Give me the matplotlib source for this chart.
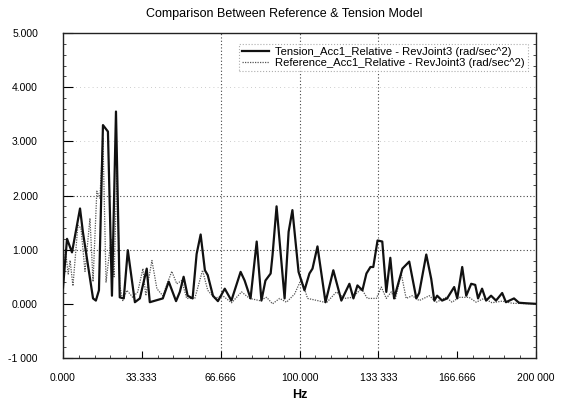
import matplotlib
matplotlib.use("Agg")
import matplotlib.pyplot as plt
from matplotlib.ticker import AutoMinorLocator, FixedLocator

plt.rcParams['font.family'] = ['Liberation Sans', 'DejaVu Sans']

title = "Comparison Between Reference & Tension Model"
xlabel = "Hz"
tension_label = "Tension_Acc1_Relative - RevJoint3 (rad/sec^2)"
reference_label = "Reference_Acc1_Relative - RevJoint3 (rad/sec^2)"

x_ticks = [0, 33.333, 66.666, 100.0, 133.333, 166.666, 200.0]
x_tick_labels = ['0.000', '33.333', '66.666', '100.000', '133 333', '166.666', '200 000']
y_ticks = [-1, 0, 1, 2, 3, 4, 5]
y_tick_labels = ['-1 000', '0.000', '1.000', '2.000', '3.000', '4.000', '5.000']

tension_hz = [0, 1.7, 3.8, 7.2, 8.4, 12.7, 13.9, 15.2, 16.9, 19.0, 20.7, 22.4, 24.0, 25.7,
              27.4, 30.4, 32.5, 35.4, 36.7, 42.2, 44.7, 47.8, 49.4, 51.0, 52.7, 54.8, 56.5,
              58.2, 60.0, 61.2, 63.4, 65.5, 68.4, 71.2, 75.1, 76.8, 79.3, 81.9, 83.9, 85.6,
              87.8, 88.6, 90.3, 93.7, 95.4, 97.0, 99.6, 102.1, 104.2, 105.5, 107.6, 111.0,
              114.3, 117.7, 121.1, 122.8, 124.5, 126.6, 128.3, 130.0, 131.2, 133.0, 135.0,
              136.7, 138.4, 140.0, 143.5, 146.4, 149.4, 150.6, 153.6, 155.7, 157.0, 158.2,
              160.3, 162.4, 165.4, 166.7, 168.8, 170.5, 172.6, 174.3, 175.5, 177.2, 178.9,
              181.0, 183.1, 185.7, 187.3, 190.7, 192.8, 196.0, 200.0]
tension_val = [0.30, 1.20, 0.95, 1.76, 1.33, 0.10, 0.06, 0.25, 3.30, 3.18, 0.15, 3.55, 0.12, 0.10,
               0.99, 0.03, 0.10, 0.65, 0.03, 0.10, 0.41, 0.05, 0.22, 0.50, 0.15, 0.10, 0.92,
               1.28, 0.62, 0.53, 0.15, 0.05, 0.28, 0.06, 0.59, 0.43, 0.10, 1.15, 0.06, 0.43,
               0.56, 0.90, 1.80, 0.10, 1.33, 1.73, 0.59, 0.25, 0.56, 0.65, 1.06, 0.03,
               0.62, 0.06, 0.37, 0.10, 0.34, 0.25, 0.56, 0.68, 0.68, 1.17, 1.15,
               0.22, 0.85, 0.10, 0.65, 0.78, 0.10, 0.20, 0.91, 0.46, 0.06, 0.15,
               0.06, 0.10, 0.31, 0.10, 0.68, 0.15, 0.37, 0.35, 0.10, 0.28, 0.06,
               0.15, 0.06, 0.20, 0.03, 0.10, 0.02, 0.01, 0.00]

reference_hz = [0, 1.0, 2.2, 3.0, 4.2, 6.3, 7.6, 9.3, 11.4, 12.7, 14.3, 15.6, 16.9, 18.2, 20.3,
                21.6, 22.8, 24.0, 25.3, 27.0, 29.5, 31.6, 33.8, 35.0, 37.6, 39.7, 42.2, 46.0,
                48.1, 50.2, 52.3, 55.7, 56.5, 59.0, 61.2, 64.1, 67.5, 71.3, 75.5, 78.9, 83.1,
                86.1, 88.6, 91.6, 94.5, 97.9, 100.8, 103.4, 107.6, 111.4, 115.6, 119.0, 122.4,
                126.2, 128.7, 132.5, 134.6, 136.7, 138.8, 140.5, 143.0, 145.1, 147.7, 150.6,
                154.9, 157.8, 162.0, 164.5, 167.5, 171.7, 174.7, 178.0, 181.4, 185.7, 190.0, 200.0]
reference_val = [0.25, 1.00, 0.55, 0.80, 0.33, 1.45, 1.40, 0.60, 1.58, 0.41, 2.08, 1.95, 3.05, 0.40, 1.20,
                 0.50, 2.45, 0.33, 0.06, 0.25, 0.12, 0.22, 0.65, 0.15, 0.80, 0.28, 0.15, 0.60,
                 0.37, 0.43, 0.10, 0.10, 0.22, 0.62, 0.25, 0.10, 0.15, 0.02, 0.22, 0.10, 0.06,
                 0.12, 0.00, 0.10, 0.03, 0.18, 0.46, 0.10, 0.06, 0.02, 0.22, 0.10, 0.12,
                 0.28, 0.10, 0.10, 0.31, 0.10, 0.22, 0.08, 0.56, 0.10, 0.15, 0.06,
                 0.15, 0.03, 0.12, 0.03, 0.12, 0.12, 0.03, 0.10, 0.02, 0.05, 0.01, 0.00]

fig = plt.figure(figsize=(5.66, 4.05), dpi=100)
ax = fig.add_axes([63 / 566, 1 - 358 / 405, (536 - 63) / 566, (358 - 33) / 405])

# grid (dotted)
for gx in [66.666, 100.0, 133.333]:
    ax.axvline(gx, color='#444444', lw=0.8, ls=(0, (1, 2)), zorder=1)
for gy in [1, 2]:
    ax.axhline(gy, color='#444444', lw=0.8, ls=(0, (1, 2)), zorder=1)
for gy in [3, 4]:
    ax.axhline(gy, color='#bbbbbb', lw=0.6, ls=(0, (1, 4)), zorder=1)

ax.plot(reference_hz, reference_val, color='#555555', lw=0.9, ls=(0, (1, 1)),
        label=reference_label, zorder=2)
ax.plot(tension_hz, tension_val, color='#111111', lw=1.6, label=tension_label, zorder=3)

ax.set_xlim(0, 200)
ax.set_ylim(-1, 5)
ax.xaxis.set_major_locator(FixedLocator(x_ticks))
ax.set_xticklabels(x_tick_labels)
ax.yaxis.set_major_locator(FixedLocator(y_ticks))
ax.set_yticklabels(y_tick_labels)
ax.xaxis.set_minor_locator(AutoMinorLocator(5))
ax.yaxis.set_minor_locator(AutoMinorLocator(5))
ax.tick_params(axis='x', which='major', direction='in', length=5, width=0.8,
               labelsize=7.5, pad=11, top=False)
ax.tick_params(axis='x', which='minor', direction='in', length=2, width=0.5, top=False)
ax.tick_params(axis='y', which='major', direction='in', length=7, width=0.8,
               labelsize=7.5, pad=18, right=False)
ax.tick_params(axis='y', which='minor', direction='in', length=2, width=0.5, right=True)
for s in ax.spines.values():
    s.set_linewidth(1.0)
    s.set_color('#222222')

ax.set_xlabel(xlabel, fontsize=9, fontweight='bold', labelpad=4)
fig.text(284 / 566, 1 - 14 / 405, title, ha='center', va='center', fontsize=9)

handles, labels = ax.get_legend_handles_labels()
leg = ax.legend(handles[::-1], labels[::-1], loc='upper left', bbox_to_anchor=(0.36, 0.985),
                fontsize=8.1, handlelength=2.4, handletextpad=0.5, borderpad=0.3,
                labelspacing=0.1, frameon=True, fancybox=False)
fr = leg.get_frame()
fr.set_edgecolor('#999999')
fr.set_linestyle(':')
fr.set_linewidth(0.8)

fig.savefig('out.png', dpi=100)
